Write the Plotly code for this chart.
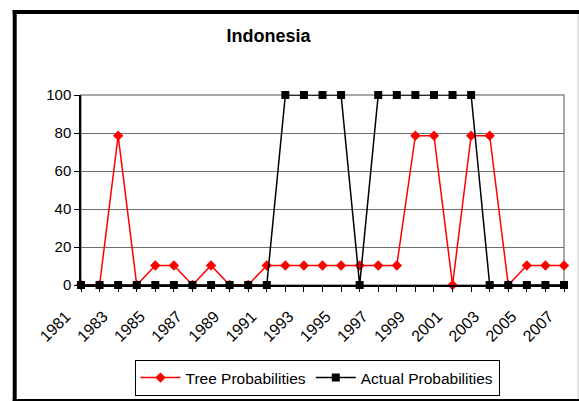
import plotly.graph_objects as go

# Years on the category axis and the two probability series (percent)
years = list(range(1981, 2008))
tree_probabilities = [0, 0, 78.6, 0, 10.3, 10.3, 0, 10.3, 0, 0,
                      10.3, 10.3, 10.3, 10.3, 10.3, 10.3, 10.3, 10.3, 78.6, 78.6,
                      0, 78.6, 78.6, 0, 10.3, 10.3, 10.3]
actual_probabilities = [0, 0, 0, 0, 0, 0, 0, 0, 0, 0,
                        0, 100, 100, 100, 100, 0, 100, 100, 100, 100,
                        100, 100, 0, 0, 0, 0, 0]
tick_labels = [str(y) if y % 2 == 1 else "" for y in years]
y_ticks = [0, 20, 40, 60, 80, 100]

W, H = 579, 401
L, R, T, B = 81, 564, 95, 285  # plot area in pixels

FONT = "Liberation Sans, Arial, sans-serif"

fig = go.Figure()
fig.add_trace(go.Scatter(
    x=years, y=tree_probabilities, name="Tree Probabilities",
    mode="lines+markers", cliponaxis=False,
    line=dict(color="#ff0000", width=1.5),
    marker=dict(symbol="diamond", size=8, color="#ff0000"),
))
fig.add_trace(go.Scatter(
    x=years, y=actual_probabilities, name="Actual Probabilities",
    mode="lines+markers", cliponaxis=False,
    line=dict(color="#000000", width=1.5),
    marker=dict(symbol="square", size=8, color="#000000"),
))


def px_x(px):
    return (px - L) / (R - L)


def px_y(py):
    return (B - py) / (B - T)


def bar(x0, y0, x1, y1, color):
    """Filled strip given in page pixels, used for the outer chart frame."""
    return dict(type="rect", xref="paper", yref="paper",
                x0=px_x(x0), x1=px_x(x1), y0=px_y(y1), y1=px_y(y0),
                fillcolor=color, line=dict(width=0), layer="above")


shapes = [
    # plot-area frame
    dict(type="rect", xref="paper", yref="paper", x0=0, x1=1, y0=0, y1=1,
         line=dict(color="#8c8c8c", width=1.5), layer="below"),
    # outer chart frame
    bar(12.7, 10, 16.7, 401, "black"),
    bar(12.7, 10, 579, 14, "black"),
    bar(577.5, 14, 578.5, 401, "#c8c8c8"),
    bar(12.7, 399, 579, 401, "black"),
]

fig.update_layout(
    width=W, height=H,
    margin=dict(l=L, r=W - R, t=T, b=H - B, autoexpand=False),
    paper_bgcolor="white", plot_bgcolor="white",
    font=dict(family=FONT, color="black", size=14),
    title=dict(text="<b>Indonesia</b>", x=268.5 / W, xanchor="center",
               y=1 - 36 / H, yanchor="middle",
               font=dict(size=18, family=FONT, color="black")),
    showlegend=True,
    legend=dict(orientation="h", x=317 / W, xanchor="center", xref="container",
                y=1 - 360 / H, yanchor="top", yref="container",
                bordercolor="black", borderwidth=1,
                font=dict(size=15.5, family=FONT, color="black"),
                itemwidth=40, tracegroupgap=0),
    shapes=shapes,
    xaxis=dict(range=[1981, 2007], tickmode="array", tickvals=years,
               ticktext=tick_labels, tickangle=-45, ticks="outside",
               ticklen=5, tickcolor="black", showgrid=False, zeroline=False,
               showline=True, linecolor="black", linewidth=1.5,
               automargin=False, ticklabelstandoff=9, ticklabelshift=-15,
               tickfont=dict(size=16, family=FONT, color="black")),
    yaxis=dict(range=[0, 100], tickmode="array", tickvals=y_ticks,
               ticks="outside", ticklen=5, tickcolor="black",
               showgrid=True, gridcolor="#6e6e6e", gridwidth=1,
               zeroline=False, showline=True, linecolor="black", linewidth=1.5,
               automargin=False,
               tickfont=dict(size=15, family=FONT, color="black")),
)

fig.write_html("out.html")
